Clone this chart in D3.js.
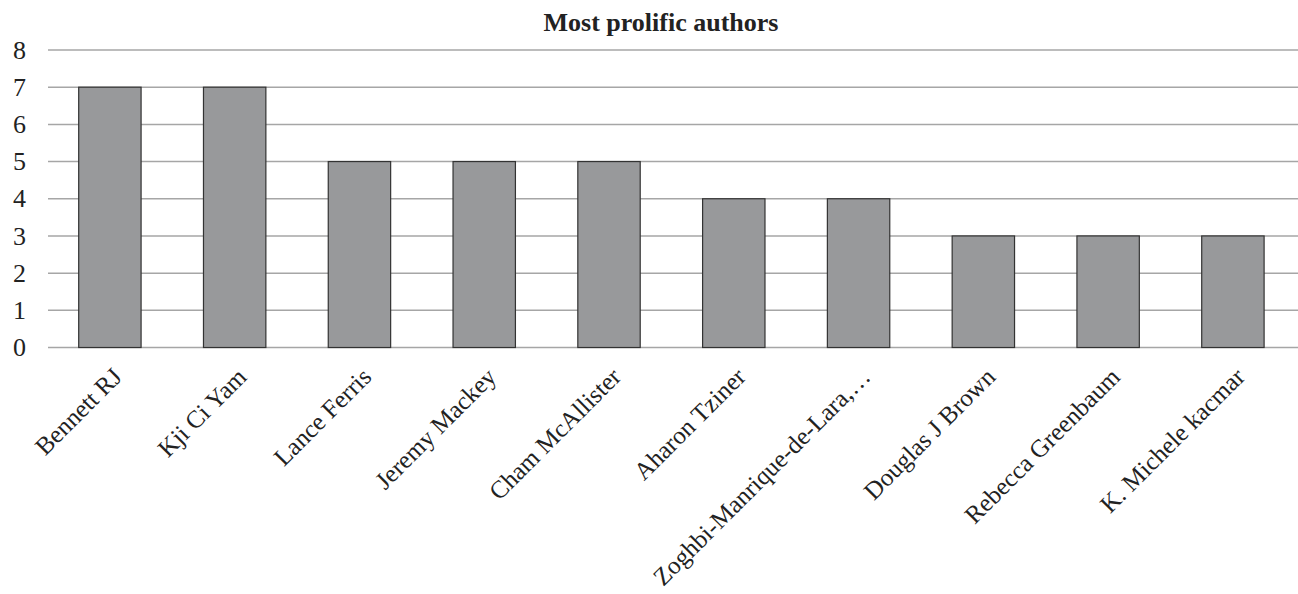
<!DOCTYPE html>
<html>
<head>
<meta charset="utf-8">
<script src="https://cdn.jsdelivr.net/npm/d3@7"></script>
<style>
	body {margin:0;background:#fff;}
	text {font-family:"Liberation Serif","Times New Roman",serif;fill:#222;}
	.grid line {stroke:#a6a6a6;stroke-width:1.5;}
	.bar {fill:#98999b;stroke:#333;stroke-width:1.2;}
</style>
</head>
<body>
<svg id="chart" width="1298" height="594"></svg>
<script>
var authors = ["Bennett RJ", "Kji Ci Yam", "Lance Ferris", "Jeremy Mackey", "Cham McAllister",
	"Aharon Tziner", "Zoghbi-Manrique-de-Lara,\u2026", "Douglas J Brown", "Rebecca Greenbaum", "K. Michele kacmar"];
var counts = [7, 7, 5, 5, 5, 4, 4, 3, 3, 3];
var yTicks = [0, 1, 2, 3, 4, 5, 6, 7, 8];

var svg = d3.select("#chart");

var x = d3.scaleBand()
	.domain(authors)
	.range([47.5, 1295.3])
	.paddingInner(0.5)
	.paddingOuter(0.25);

var y = d3.scaleLinear()
	.domain([0, 8])
	.range([347.5, 50]);

//gridlines
svg.append("g")
	.attr("class", "grid")
	.selectAll("line")
	.data(yTicks)
	.enter().append("line")
		.attr("x1", 48)
		.attr("x2", 1298)
		.attr("y1", function(d) {return y(d);})
		.attr("y2", function(d) {return y(d);})
;

//y labels
svg.append("g")
	.selectAll("text")
	.data(yTicks)
	.enter().append("text")
		.attr("x", 26)
		.attr("y", function(d) {return y(d);})
		.attr("dy", "0.33em")
		.style("text-anchor", "end")
		.style("font-size", "26px")
		.text(function(d) {return d;})
;

//bars
svg.append("g")
	.selectAll("rect")
	.data(counts)
	.enter().append("rect")
		.attr("class", "bar")
		.attr("x", function(d, i) {return x(authors[i]);})
		.attr("width", x.bandwidth())
		.attr("y", function(d) {return y(d);})
		.attr("height", function(d) {return y(0) - y(d);})
;

//x labels, rotated
svg.append("g")
	.selectAll("text")
	.data(authors)
	.enter().append("text")
		.attr("transform", function(d) {return "translate(" + (x(d) + x.bandwidth()/2 + 1) + ",366) rotate(-45)";})
		.attr("dy", "0.7em")
		.style("text-anchor", "end")
		.style("font-size", "25px")
		.text(function(d) {return d;})
;

svg.append("text")
	.attr("x", 661)
	.attr("y", 31)
	.style("text-anchor", "middle")
	.style("font-size", "26px")
	.style("font-weight", "bold")
	.text("Most prolific authors")
;
</script>
</body>
</html>
